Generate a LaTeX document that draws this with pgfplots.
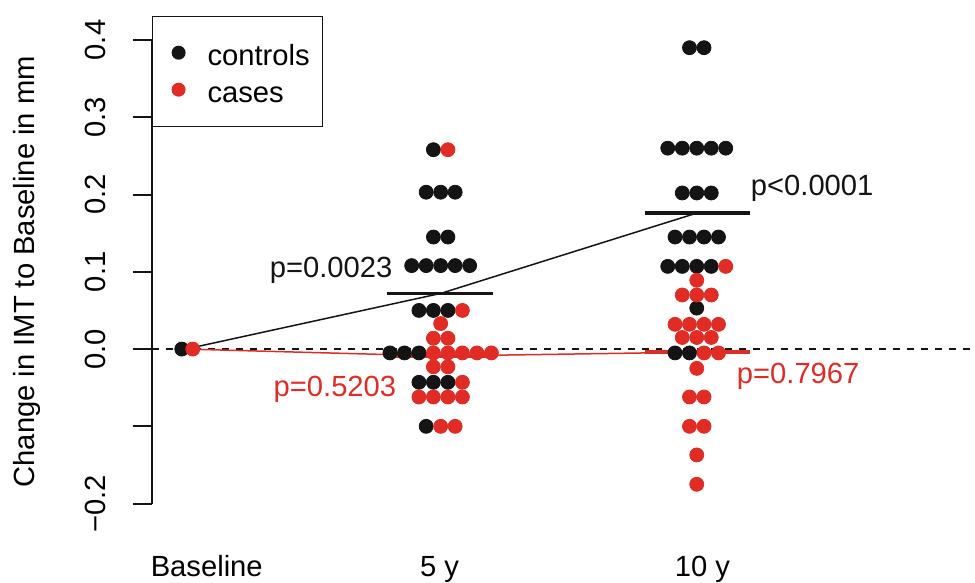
\documentclass[border=0pt]{standalone}
\usepackage{pgfplots}
\pgfplotsset{compat=1.18}
\usepackage{fontspec}
\setmainfont{Liberation Sans}
\definecolor{ctrl}{RGB}{20,20,20}
\definecolor{case}{RGB}{224,44,36}
\begin{document}
\fontsize{14.6}{17}\selectfont
\begin{tikzpicture}
\begin{axis}[
  scale only axis, width=411.5pt, height=232pt,
  font=\fontsize{14.6}{17}\selectfont,
  xmin=0.8667, xmax=4.094, ymin=-0.2, ymax=0.4,
  clip=false,
  axis lines=left,
  axis line style={-, line width=1pt, draw=ctrl},
  x axis line style={draw=none},
  tick align=outside, major tick length=9.5pt,
  tick style={line width=1pt, draw=ctrl},
  xtick style={draw=none},
  xtick={1.082,1.996,3.027}, xticklabels={Baseline,5 y,10 y},
  xticklabel style={anchor=base, inner sep=0pt, yshift=-27pt},
  ytick={-0.2,-0.1,0,0.1,0.2,0.3,0.4},
  yticklabels={−0.2,,0.0,0.1,0.2,0.3,0.4},
  yticklabel style={rotate=90, anchor=south, inner sep=0pt, yshift=13.5pt},
  ylabel={Change in IMT to Baseline in mm},
  ylabel style={at={(rel axis cs:0,0.5)}, anchor=center, yshift=62.5pt},
  legend style={at={(rel axis cs:0,1)}, anchor=north west, yshift=12pt,
    draw=ctrl, line width=0.75pt, inner xsep=4.5pt, inner ysep=12pt,
    row sep=6pt, column sep=9pt, cells={anchor=west},
    nodes={inner ysep=0pt, text height=12.5pt, text depth=0pt},
    font=\fontsize{14.6}{17}\selectfont},
  legend image code/.code={\path (-8.5pt,0pt) -- (0pt,0pt); \fill[#1] (0pt,0.25pt) circle (3.5pt);},
]
% zero reference
\addplot[ctrl, line width=0.75pt, dash pattern=on 3.5pt off 3.5pt, forget plot]
  coordinates {(0.8667,0) (4.094,0)};
% controls
\addplot[only marks, mark=*, mark size=3.5pt, color=ctrl, draw=none] coordinates {
  (0.984,0)
  (1.9715,0.258)
  (1.9431,0.203)(2,0.203)(2.0569,0.203)
  (1.9715,0.145)(2.0285,0.145)
  (1.8862,0.108)(1.9431,0.108)(2,0.108)(2.0569,0.108)(2.1138,0.108)
  (1.9147,0.050)(1.9715,0.050)(2.0285,0.050)
  (1.8009,-0.005)(1.8578,-0.005)(1.9147,-0.005)
  (1.9147,-0.043)(1.9715,-0.043)(2.0285,-0.043)
  (1.9431,-0.100)
  (2.9765,0.390)(3.0335,0.390)
  (2.8912,0.260)(2.9481,0.260)(3.005,0.260)(3.0619,0.260)(3.1188,0.260)
  (2.9481,0.202)(3.005,0.202)(3.0619,0.202)
  (2.9197,0.145)(2.9765,0.145)(3.0335,0.145)(3.0903,0.145)
  (2.8912,0.107)(2.9481,0.107)(3.005,0.107)(3.0619,0.107)
  (3.005,0.053)
  (2.9197,-0.005)(2.9765,-0.005)
};
\addlegendentry{controls}
% cases
\addplot[only marks, mark=*, mark size=3.5pt, color=case, draw=none] coordinates {
  (1.027,0)
  (2.0285,0.258)
  (2.0853,0.050)
  (2,0.033)
  (1.9715,0.014)(2.0285,0.014)
  (1.9715,-0.005)(2.0285,-0.005)(2.0853,-0.005)(2.1422,-0.005)(2.1991,-0.005)
  (1.9715,-0.023)(2.0285,-0.023)
  (2.0853,-0.043)
  (1.9147,-0.062)(1.9715,-0.062)(2.0285,-0.062)(2.0853,-0.062)
  (2,-0.100)(2.0569,-0.100)
  (3.1188,0.107)
  (3.005,0.089)
  (2.9481,0.070)(3.005,0.070)(3.0619,0.070)
  (2.9197,0.032)(2.9765,0.032)(3.0335,0.032)(3.0903,0.032)
  (2.9481,0.015)(3.005,0.015)(3.0619,0.015)
  (3.0335,-0.005)(3.0903,-0.005)
  (3.005,-0.025)
  (2.9765,-0.062)(3.0335,-0.062)
  (2.9765,-0.100)(3.0335,-0.100)
  (3.005,-0.137)
  (3.005,-0.175)
};
\addlegendentry{cases}
% mean trajectories
\addplot[ctrl, line width=0.75pt, forget plot] coordinates {(1,0) (2,0.072) (3.005,0.176)};
\addplot[case, line width=0.75pt, forget plot] coordinates {(1,0) (2,-0.009) (3.005,-0.004)};
% group means
\addplot[ctrl, line width=1.75pt, forget plot] coordinates {(1.788,0.072) (2.204,0.072)};
\addplot[ctrl, line width=1.75pt, forget plot] coordinates {(2.800,0.176) (3.212,0.176)};
\addplot[case, line width=1.75pt, forget plot] coordinates {(1.788,-0.009) (2.212,-0.009)};
\addplot[case, line width=1.75pt, forget plot] coordinates {(2.800,-0.004) (3.212,-0.004)};
% p-values
\node[anchor=base east, inner sep=0pt, text=ctrl] at (axis cs:1.812,0.093) {p=0.0023};
\node[anchor=base west, inner sep=0pt, text=ctrl] at (axis cs:3.216,0.199) {p<0.0001};
\node[anchor=base east, inner sep=0pt, text=case] at (axis cs:1.827,-0.062) {p=0.5203};
\node[anchor=base west, inner sep=0pt, text=case] at (axis cs:3.161,-0.044) {p=0.7967};
% page frame
\path (rel axis cs:0,0) ++(-76pt,-38.5pt) rectangle ++(487.5pt,290.5pt);
\end{axis}
\end{tikzpicture}
\end{document}
